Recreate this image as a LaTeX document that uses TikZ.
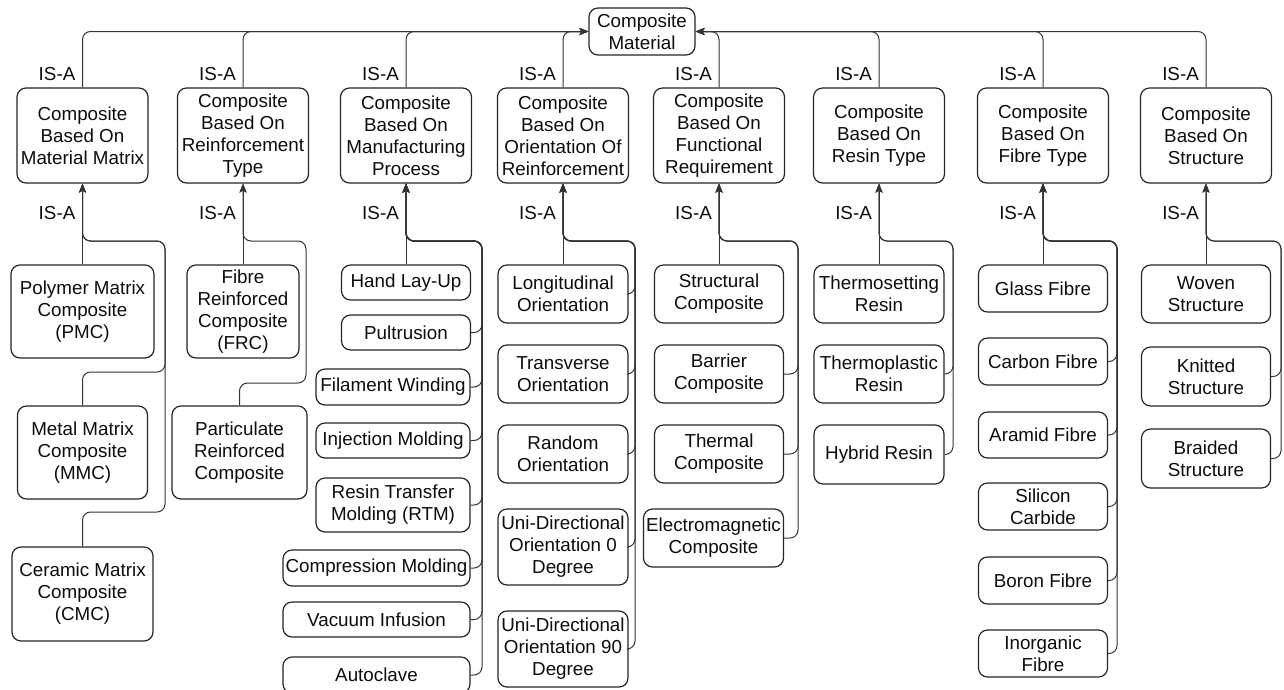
\documentclass[tikz,border=0pt]{standalone}
\usepackage{fontspec}
\setmainfont{Liberation Sans}
\usetikzlibrary{arrows.meta}

\begin{document}
\begin{tikzpicture}[x=1pt,y=-1pt,
  box/.style={draw=black!85, line width=1.2pt, rounded corners=9pt, inner sep=0pt,
    align=center, text=black!95, font=\fontsize{18.8}{22}\selectfont},
  link/.style={draw=black!80, line width=1pt, rounded corners=8pt,
    -{Stealth[length=9pt,width=7pt,inset=2pt]}},
  isa/.style={anchor=east, inner sep=0pt, text=black!95, font=\fontsize{18.8}{22}\selectfont}
]
\useasboundingbox[fill=white] (0,0) rectangle (1284,689);

% box macro: name, centre x, centre y, width, height, text
\newcommand{\bx}[6]{\node[box, minimum width=#4pt, minimum height=#5pt] (#1) at (#2,#3) {#6};}

% root
\bx{root}{642}{31.5}{106}{47}{Composite\\Material}

% categories
\bx{c1}{82.5}{135.5}{131}{95}{Composite\\Based On\\Material Matrix}
\bx{c2}{243}{135.5}{131}{95}{Composite\\Based On\\Reinforcement\\Type}
\bx{c3}{406}{135.5}{131}{95}{Composite\\Based On\\Manufacturing\\Process}
\bx{c4}{563}{135.5}{131}{95}{Composite\\Based On\\Orientation Of\\Reinforcement}
\bx{c5}{719}{135.5}{131}{95}{Composite\\Based On\\Functional\\Requirement}
\bx{c6}{879}{135.5}{131}{95}{Composite\\Based On\\Resin Type}
\bx{c7}{1043}{135.5}{131}{95}{Composite\\Based On\\Fibre Type}
\bx{c8}{1206}{135.5}{131}{95}{Composite\\Based On\\Structure}

% category links to root
\foreach \c in {c1,c2,c3,c4}{\draw[link] (\c.north) |- (root.west);}
\foreach \c in {c5,c6,c7,c8}{\draw[link] (\c.north) |- (root.east);}
\foreach \x in {82.5,243,406,563,719,879,1043,1206}{
  \node[isa] at (\x-7,74) {IS-A};
  \node[isa] at (\x-7,213) {IS-A};
}

% material matrix
\bx{pmc}{82.5}{311.5}{143}{93}{Polymer Matrix\\Composite\\(PMC)}
\bx{mmc}{82.5}{452.5}{130}{93}{Metal Matrix\\Composite\\(MMC)}
\bx{cmc}{82.5}{594}{141}{94}{Ceramic Matrix\\Composite\\(CMC)}
\draw[link] (pmc.north) -- (c1.south);
\draw[link] (mmc.north) |- (165,372) |- (82.5,241) -- (c1.south);
\draw[link] (cmc.north) |- (165,512) |- (82.5,241) -- (c1.south);

% reinforcement type
\bx{frc}{243}{311.5}{112}{93}{Fibre\\Reinforced\\Composite\\(FRC)}
\bx{prc}{239.5}{452.5}{135}{93}{Particulate\\Reinforced\\Composite}
\draw[link] (frc.north) -- (c2.south);
\draw[link] (prc.north) |- (306,383) |- (243,241) -- (c2.south);

% manufacturing process
\bx{hlu}{406}{282.5}{129}{35}{Hand Lay-Up}
\bx{pul}{406}{332.5}{129}{35}{Pultrusion}
\bx{fil}{393}{387}{154}{36}{Filament Winding}
\bx{inj}{393}{440.5}{154}{35}{Injection Molding}
\bx{rtm}{393}{505}{154}{54}{Resin Transfer\\Molding (RTM)}
\bx{cmp}{376.5}{568}{187}{36}{Compression Molding}
\bx{vac}{376.5}{619.5}{187}{35}{Vacuum Infusion}
\bx{acl}{376.5}{675}{187}{36}{Autoclave}
\draw[link] (hlu.north) -- (c3.south);
\foreach \n in {pul,fil,inj,rtm,cmp,vac,acl}{\draw[link] (\n.east) -| (482,241) -| (c3.south);}

% orientation of reinforcement
\bx{lon}{563}{294}{130}{58}{Longitudinal\\Orientation}
\bx{tra}{563}{374}{130}{58}{Transverse\\Orientation}
\bx{rnd}{563}{454}{130}{58}{Random\\Orientation}
\bx{udz}{563}{547}{130}{76}{Uni-Directional\\Orientation 0\\Degree}
\bx{udn}{563}{649}{130}{76}{Uni-Directional\\Orientation 90\\Degree}
\draw[link] (lon.north) -- (c4.south);
\foreach \n in {lon,tra,rnd,udz,udn}{\draw[link] (\n.east) -| (635,241) -| (c4.south);}

% functional requirement
\bx{stc}{719}{294}{129}{58}{Structural\\Composite}
\bx{bar}{719}{374}{129}{58}{Barrier\\Composite}
\bx{thc}{719}{454}{129}{58}{Thermal\\Composite}
\bx{emc}{713.5}{538}{140}{58}{Electromagnetic\\Composite}
\draw[link] (stc.north) -- (c5.south);
\foreach \n in {bar,thc,emc}{\draw[link] (\n.east) -| (798,241) -| (c5.south);}

% resin type
\bx{tset}{879}{294}{130}{58}{Thermosetting\\Resin}
\bx{tpla}{879}{374}{130}{58}{Thermoplastic\\Resin}
\bx{hyb}{879}{454.5}{130}{59}{Hybrid Resin}
\draw[link] (tset.north) -- (c6.south);
\foreach \n in {tpla,hyb}{\draw[link] (\n.east) -| (953,241) -| (c6.south);}

% fibre type
\bx{gla}{1043}{288.5}{129}{47}{Glass Fibre}
\bx{car}{1043}{361.5}{129}{47}{Carbon Fibre}
\bx{ara}{1043}{435}{129}{46}{Aramid Fibre}
\bx{sic}{1043}{506.5}{129}{47}{Silicon\\Carbide}
\bx{bor}{1043}{580.5}{129}{47}{Boron Fibre}
\bx{ino}{1043}{653.5}{129}{47}{Inorganic\\Fibre}
\draw[link] (gla.north) -- (c7.south);
\foreach \n in {car,ara,sic,bor,ino}{\draw[link] (\n.east) -| (1117,241) -| (c7.south);}

% structure
\bx{wov}{1206}{294}{129}{58}{Woven\\Structure}
\bx{kni}{1206}{376.5}{129}{59}{Knitted\\Structure}
\bx{bra}{1206}{458.5}{129}{59}{Braided\\Structure}
\draw[link] (wov.north) -- (c8.south);
\foreach \n in {kni,bra}{\draw[link] (\n.east) -| (1281,241) -| (c8.south);}
\end{tikzpicture}
\end{document}
